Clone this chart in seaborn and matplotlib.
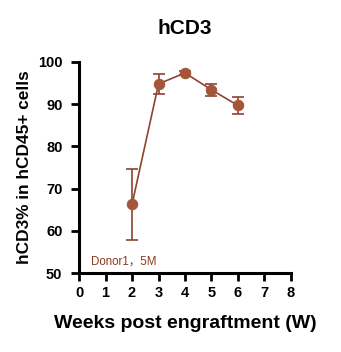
import matplotlib
matplotlib.use("Agg")
import matplotlib.pyplot as plt
import seaborn as sns
import pandas as pd

weeks = [2, 3, 4, 5, 6]
mean_pct = [66.3, 94.8, 97.4, 93.4, 89.7]
err_pct = [8.4, 2.3, 0.4, 1.35, 2.1]
x_ticks = [0, 1, 2, 3, 4, 5, 6, 7, 8]
y_ticks = [50, 60, 70, 80, 90, 100]

sns.set_style("ticks")
plt.rcParams['font.family'] = ['Liberation Sans', 'Noto Sans CJK SC', 'DejaVu Sans']
plt.rcParams['text.color'] = 'black'
plt.rcParams['axes.labelcolor'] = 'black'
plt.rcParams['xtick.color'] = 'black'
plt.rcParams['ytick.color'] = 'black'

df = pd.DataFrame({"week": weeks, "pct": mean_pct})

fig = plt.figure(figsize=(3.41, 3.52), dpi=100)
ax = fig.add_axes([0.232, 0.224, 0.621, 0.600])

line_c = "#8E4330"
mark_c = "#A4553A"

sns.lineplot(data=df, x="week", y="pct", ax=ax, color=line_c, lw=1.2,
             marker="o", markersize=7.5, markerfacecolor=mark_c,
             markeredgecolor=mark_c, zorder=3)
ax.errorbar(weeks, mean_pct, yerr=err_pct, fmt="none", ecolor=line_c,
            elinewidth=1.2, capsize=4, capthick=1.2, zorder=2)

ax.set_xlim(0, 8)
ax.set_ylim(50, 100)
ax.set_xticks(x_ticks)
ax.set_yticks(y_ticks)
for s in ["top", "right"]:
    ax.spines[s].set_visible(False)
for s in ["left", "bottom"]:
    ax.spines[s].set_linewidth(2.2)
    ax.spines[s].set_color("black")
ax.tick_params(axis="both", width=2, length=6, labelsize=10.5, pad=3)
ax.tick_params(axis="y", pad=6)
for lab in ax.get_xticklabels() + ax.get_yticklabels():
    lab.set_fontweight("bold")

ax.set_xlabel("Weeks post engraftment (W)", fontsize=14, fontweight="bold", labelpad=11)
ax.set_ylabel("hCD3% in hCD45+ cells", fontsize=12.4, fontweight="bold", labelpad=4)
ax.set_title("hCD3", fontsize=15, fontweight="bold", pad=20)

ax.text(0.055, 0.025, "Donor1，5M", transform=ax.transAxes, fontsize=8.3,
        color="#8B3A1E", ha="left", va="bottom")

fig.savefig("out.png", dpi=100)
